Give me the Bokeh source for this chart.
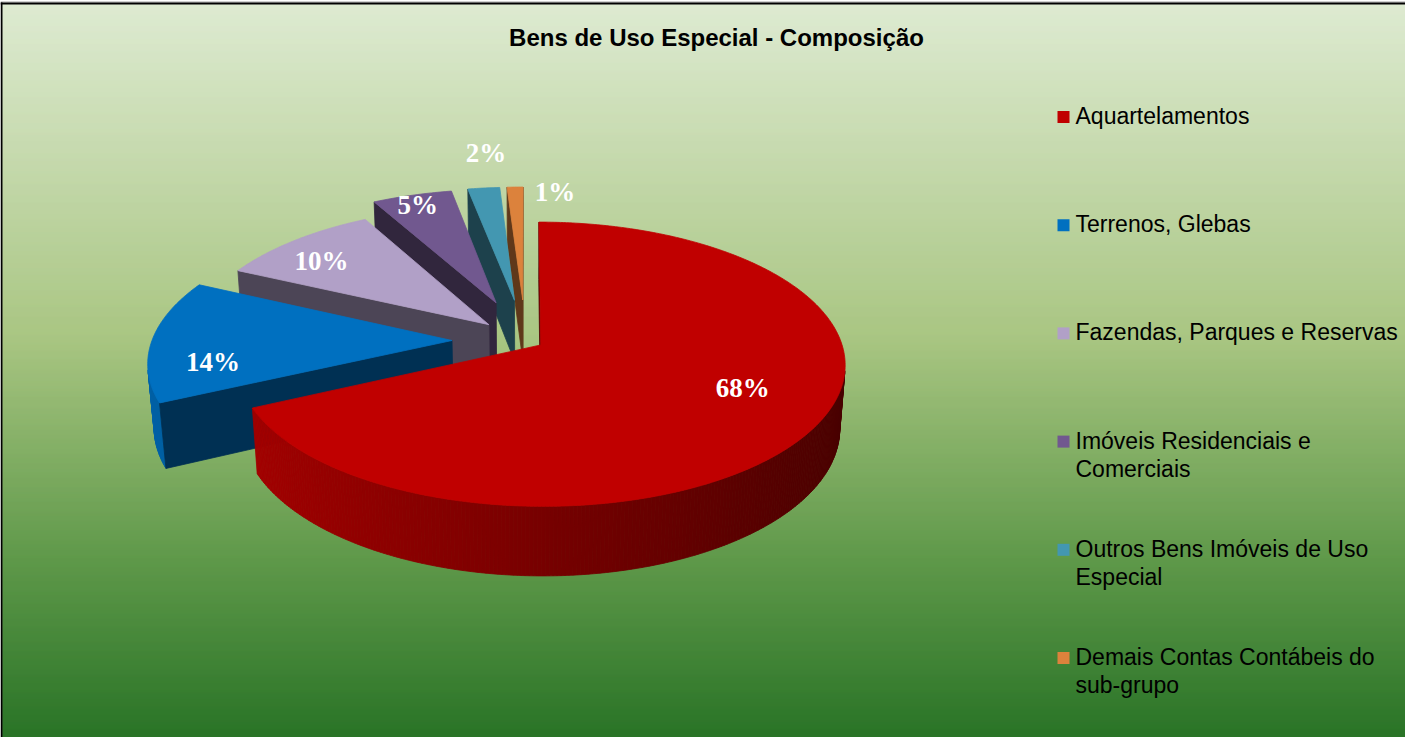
import numpy as np
from bokeh.plotting import figure
from bokeh.models import Range1d
from bokeh.core.properties import value
from bokeh.embed import file_html
from bokeh.resources import INLINE

# ---------------- data ----------------
chart_title = "Bens de Uso Especial - Composição"
categories = [
    "Aquartelamentos",
    "Terrenos, Glebas",
    "Fazendas, Parques e Reservas",
    "Imóveis Residenciais e\nComerciais",
    "Outros Bens Imóveis de Uso\nEspecial",
    "Demais Contas Contábeis do\nsub-grupo",
]
shares = [68, 14, 10, 5, 2, 1]
pct_labels = ["68%", "14%", "10%", "5%", "2%", "1%"]

# ---------------- style ----------------
top_colors = ["#C00000", "#0070C0", "#B1A0C7", "#71588F", "#4397B1", "#DC823C"]
explode = [0.06, 0.245, 0.17, 0.30, 0.305, 0.305]
label_r = [0.707, 0.79, 0.79, 0.894, 1.353, 0.953]
label_nudge = [-7.5, -11.4, -4.0, -0.6, 2.0, 9.3]
TXT_DY = -9.5  # baseline correction for text glyphs

W, H = 1405, 737
X0, Y0 = 8, 8

p = figure(width=W, height=H, x_range=Range1d(X0, X0 + W), y_range=Range1d(Y0 + H, Y0),
           output_backend="svg", toolbar_location=None, x_axis_type=None, y_axis_type=None,
           min_border=0)
p.outline_line_color = None
p.background_fill_color = "white"
p.border_fill_color = "white"
p.grid.visible = False


def hexc(rgb):
    return "#%02x%02x%02x" % tuple(int(max(0, min(255, round(v)))) for v in rgb)


def to_rgb(h):
    h = h.lstrip("#")
    return np.array([int(h[i:i + 2], 16) for i in (0, 2, 4)], dtype=float)


def shade(h, k):
    return hexc(to_rgb(h) * k)


# ---------------- background gradient ----------------
stops_t = [0.0, 0.45, 0.75, 1.0]
stops_c = [(220, 233, 207), (165, 195, 125), (88, 148, 66), (30, 108, 28)]
gy = np.arange(12, Y0 + H + 1)
tt = (gy - 12) / (753 - 12)
gcols = []
for t in tt:
    rgb = [np.interp(t, stops_t, [c[j] for c in stops_c]) for j in range(3)]
    gcols.append(hexc(rgb))
p.quad(left=10, right=X0 + W, top=gy, bottom=gy + 1, fill_color=gcols, line_color=gcols,
       line_width=0.6)

# frame lines
p.line([8, X0 + W], [9.5, 9.5], line_color="#a0a0a0", line_width=1)
p.line([8, X0 + W], [11, 11], line_color="black", line_width=2)
p.line([9, 9], [10, Y0 + H], line_color="black", line_width=2)

# ---------------- 3D pie ----------------
cx, cy = 533.0, 348.0
F, D = 1974.0, 6.58
sa, ca = 0.461, 0.887
thick = 0.24
cam = np.array([0.0, D * sa, D * ca])  # (X, H, Z)


def proj(X, Z, Hh):
    X = np.asarray(X, float)
    Z = np.asarray(Z, float)
    depth = D - Z * ca - Hh * sa
    return cx + F * X / depth, cy - F * (Hh * ca - Z * sa) / depth


def visible(P, n):
    return float(np.dot(cam - P, n)) > 0


total = float(sum(shares))
bounds = np.concatenate([[0.0], np.cumsum(shares)]) / total * 2 * np.pi

slices = []
for i in range(len(shares)):
    a0, a1 = bounds[i], bounds[i + 1]
    am = 0.5 * (a0 + a1)
    ox, oz = explode[i] * np.sin(am), -explode[i] * np.cos(am)
    cz = oz - 0.5 * np.cos(am)
    slices.append((D - cz * ca, i, a0, a1, am, ox, oz))

slices.sort(key=lambda s: -s[0])

for _, i, a0, a1, am, ox, oz in slices:
    col = top_colors[i]
    n = max(4, int(np.degrees(a1 - a0) * 1.5) + 2)
    ph = np.linspace(a0, a1, n)
    ax = ox + np.sin(ph)
    az = oz - np.cos(ph)
    txs, tys = proj(ax, az, 0.0)
    bxs, bys = proj(ax, az, -thick)
    wx, wy, wc = [], [], []
    # curved outer wall
    for k in range(n - 1):
        pm = 0.5 * (ph[k] + ph[k + 1])
        nrm = np.array([np.sin(pm), 0.0, -np.cos(pm)])
        P = np.array([ox + np.sin(pm), -thick / 2, oz - np.cos(pm)])
        if visible(P, nrm):
            wx.append([txs[k], txs[k + 1], bxs[k + 1], bxs[k]])
            wy.append([tys[k], tys[k + 1], bys[k + 1], bys[k]])
            wc.append(shade(col, 0.62 - 0.25 * np.sin(pm)))
    # radial walls
    apx_t = proj([ox], [oz], 0.0)
    apx_b = proj([ox], [oz], -thick)
    for edge, a, nd in ((0, a0, a0 - np.pi / 2), (-1, a1, a1 + np.pi / 2)):
        nrm = np.array([np.sin(nd), 0.0, -np.cos(nd)])
        P = np.array([ox + 0.5 * np.sin(a), -thick / 2, oz - 0.5 * np.cos(a)])
        if visible(P, nrm):
            wx.append([apx_t[0][0], txs[edge], bxs[edge], apx_b[0][0]])
            wy.append([apx_t[1][0], tys[edge], bys[edge], apx_b[1][0]])
            wc.append(shade(col, 0.43))
    if wx:
        p.patches(wx, wy, fill_color=wc, line_color=wc, line_width=0.8)
    px = np.concatenate([[apx_t[0][0]], txs])
    py = np.concatenate([[apx_t[1][0]], tys])
    p.patch(px, py, fill_color=col, line_color=col, line_width=0.8)

# data labels
lx, ly = [], []
for i in range(len(shares)):
    am = 0.5 * (bounds[i] + bounds[i + 1])
    ox, oz = explode[i] * np.sin(am), -explode[i] * np.cos(am)
    al = am + np.radians(label_nudge[i])
    X = ox + label_r[i] * np.sin(al)
    Z = oz - label_r[i] * np.cos(al)
    sx, sy = proj([X], [Z], 0.0)
    lx.append(float(sx[0]))
    ly.append(float(sy[0]) + 9 + TXT_DY)
p.text(x=lx, y=ly, text=pct_labels, text_color="white", text_font=value("Liberation Serif"),
       text_font_style="bold", text_font_size="27px", text_align="center",
       text_baseline="alphabetic")

# title
p.text(x=[724], y=[54 + TXT_DY], text=[chart_title], text_color="black",
       text_font=value("Liberation Sans"), text_font_style="bold", text_font_size="24px",
       text_align="center", text_baseline="alphabetic")

# legend
leg_x, leg_top, leg_gap, line_gap = 1071, 124.5, 108.2, 28
mk_y = [leg_top + k * leg_gap for k in range(len(categories))]
p.rect(x=[leg_x] * len(categories), y=mk_y, width=12, height=12, fill_color=top_colors,
       line_color=None)
tx, ty, tt_ = [], [], []
for k, lab in enumerate(categories):
    for j, line in enumerate(lab.split("\n")):
        tx.append(leg_x + 12)
        ty.append(mk_y[k] + 8.5 + j * line_gap + TXT_DY)
        tt_.append(line)
p.text(x=tx, y=ty, text=tt_, text_color="black", text_font=value("Liberation Sans"),
       text_font_size="23px", text_align="left", text_baseline="alphabetic")

open("out.html", "w").write(file_html(p, INLINE))
